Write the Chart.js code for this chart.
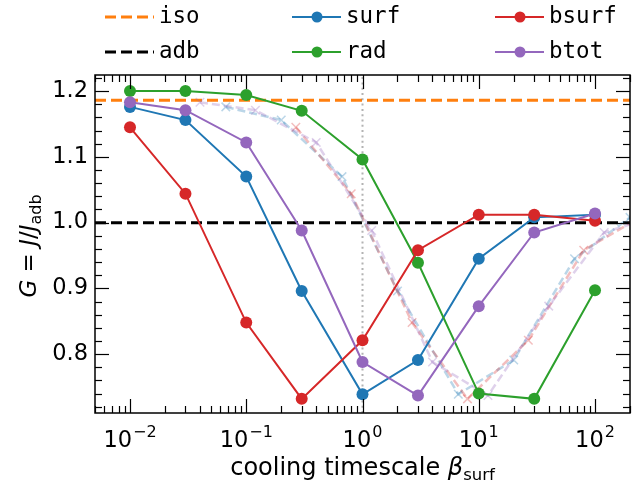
<!DOCTYPE html>
<html lang="en"><head>
<meta charset="UTF-8">
<title>G vs cooling timescale</title>
<script src="https://cdn.jsdelivr.net/npm/chart.js"></script>
<style>
  body { margin: 0; background: white; }
  #wrap { width: 639px; height: 483px; }
</style>
</head><body>
<div id="wrap"><canvas id="chart" width="639" height="483"></canvas></div>
<script>
// cooling timescale values of the runs
const betaValues = [0.01, 0.03, 0.1, 0.3, 1, 3, 10, 30, 100];
const surf  = [1.176, 1.156, 1.070, 0.896, 0.739, 0.791, 0.945, 1.008, 1.012];
const rad   = [1.200, 1.200, 1.194, 1.170, 1.096, 0.939, 0.740, 0.732, 0.897];
const bsurf = [1.145, 1.044, 0.848, 0.732, 0.821, 0.958, 1.012, 1.012, 1.003];
const btot  = [1.183, 1.171, 1.122, 0.988, 0.788, 0.737, 0.873, 0.985, 1.014];
// faint reference curves: the same values placed at rescaled beta
const surfShiftX  = [0.0667, 0.2, 0.667, 2, 6.67, 20, 66.7, 200, 667];
const bsurfShiftX = [0.267, 0.8, 2.67, 8, 26.7, 80, 267, 800, 2670];
const btotShiftX  = [0.04, 0.12, 0.4, 1.2, 4, 12, 40, 120, 400];
const isoLevel = 1.186;
const adbLevel = 1.0;
const xMin = 0.005, xMax = 200;
const yMin = 0.7105, yMax = 1.2245;
const xTickExps = [-2, -1, 0, 1, 2];
const yTicks = [0.8, 0.9, 1.0, 1.1, 1.2];
const yTickLabels = ['0.8', '0.9', '1.0', '1.1', '1.2'];

const C = {
  blue: '#1f77b4', orange: '#ff7f0e', green: '#2ca02c', red: '#d62728', purple: '#9467bd'
};
const faint = {
  blue: 'rgba(31,119,180,0.3)', red: 'rgba(214,39,40,0.3)', purple: 'rgba(148,103,189,0.3)'
};

const pts = (xs, ys) => xs.map((x, i) => ({ x: x, y: ys[i] }));

function mainSet(label, ys, color, order) {
  return {
    label: label, data: pts(betaValues, ys), borderColor: color, backgroundColor: color,
    borderWidth: 2, pointRadius: 6, pointBorderWidth: 0, pointBackgroundColor: color,
    tension: 0, order: order
  };
}
function faintSet(label, xs, ys, color, order) {
  return {
    label: label, data: pts(xs, ys), borderColor: color, borderWidth: 2.5, borderDash: [8, 4],
    pointStyle: 'crossRot', pointRadius: 6, pointBorderWidth: 1.5, pointBorderColor: color,
    tension: 0, order: order
  };
}
function hline(label, y, color, order) {
  return {
    label: label, data: [{ x: xMin, y: y }, { x: xMax, y: y }], borderColor: color,
    borderWidth: 3, borderDash: [11, 5], pointRadius: 0, order: order
  };
}

const FONT = '"DejaVu Sans", sans-serif';

// legend in the matplotlib style: 3 columns, 2 rows above the axes
const legendItems = [
  { text: 'iso',   color: C.orange, dash: true,  x: 105, y: 17 },
  { text: 'adb',   color: '#000',   dash: true,  x: 105, y: 52 },
  { text: 'surf',  color: C.blue,   dash: false, x: 292, y: 17 },
  { text: 'rad',   color: C.green,  dash: false, x: 292, y: 52 },
  { text: 'bsurf', color: C.red,    dash: false, x: 495, y: 17 },
  { text: 'btot',  color: C.purple, dash: false, x: 495, y: 52 }
];

const decorations = {
  id: 'decorations',
  afterDatasetsDraw(chart) {
    const ctx = chart.ctx, a = chart.chartArea;
    const xs = chart.scales.x, ys = chart.scales.y;
    ctx.save();
    ctx.strokeStyle = '#000';
    ctx.lineWidth = 1.2;
    ctx.setLineDash([]);
    const tick = (x1, y1, x2, y2) => { ctx.beginPath(); ctx.moveTo(x1, y1); ctx.lineTo(x2, y2); ctx.stroke(); };
    // x ticks, inward on bottom and top
    for (let d = -3; d <= 2; d++) {
      for (let k = 1; k <= 9; k++) {
        const v = k * Math.pow(10, d);
        if (v < xMin || v > xMax) continue;
        const px = Math.round(xs.getPixelForValue(v)) + 0.5;
        const len = k === 1 ? 14 : 7;
        tick(px, a.bottom, px, a.bottom - len);
        tick(px, a.top, px, a.top + len);
      }
    }
    // y ticks, major every 0.1, minor every 0.02
    for (let i = 36; i <= 61; i++) {
      const v = i / 50;
      if (v < yMin || v > yMax) continue;
      const py = Math.round(ys.getPixelForValue(v)) + 0.5;
      const len = i % 5 === 0 ? 14 : 7;
      tick(a.left, py, a.left + len, py);
      tick(a.right, py, a.right - len, py);
    }
    // frame
    ctx.lineWidth = 1.5;
    ctx.strokeRect(a.left, a.top, a.right - a.left, a.bottom - a.top);

    // y tick labels
    ctx.fillStyle = '#000';
    ctx.font = '22.5px ' + FONT;
    ctx.textAlign = 'right';
    ctx.textBaseline = 'middle';
    yTicks.forEach((v, i) => ctx.fillText(yTickLabels[i], a.left - 7, ys.getPixelForValue(v)));

    // x tick labels 10^n
    ctx.textAlign = 'left';
    ctx.textBaseline = 'alphabetic';
    xTickExps.forEach(e => {
      const px = xs.getPixelForValue(Math.pow(10, e));
      const sup = e < 0 ? '\u2212' + (-e) : String(e);
      ctx.font = '22.5px ' + FONT;
      const wb = ctx.measureText('10').width;
      ctx.font = '16px ' + FONT;
      const wsup = ctx.measureText(sup).width;
      const left = px - (wb + wsup + 1) / 2;
      ctx.font = '22.5px ' + FONT;
      ctx.fillText('10', left, 447);
      ctx.font = '16px ' + FONT;
      ctx.fillText(sup, left + wb + 1, 437);
    });

    // x axis title
    const xParts = [
      { t: 'cooling timescale ', f: '24px ' + FONT, dy: 0 },
      { t: '\u03b2', f: 'italic 24px ' + FONT, dy: 0 },
      { t: 'surf', f: '16.5px ' + FONT, dy: 5 }
    ];
    drawParts(ctx, xParts, (a.left + a.right) / 2, 475);

    // y axis title, rotated
    ctx.save();
    ctx.translate(36, (a.top + a.bottom) / 2 + 2);
    ctx.rotate(-Math.PI / 2);
    const yParts = [
      { t: 'G', f: 'italic 23px ' + FONT, dy: 0 },
      { t: ' = ', f: '23px ' + FONT, dy: 0 },
      { t: 'J', f: 'italic 23px ' + FONT, dy: 0 },
      { t: '/', f: '23px ' + FONT, dy: 0 },
      { t: 'J', f: 'italic 23px ' + FONT, dy: 0 },
      { t: 'adb', f: '16px ' + FONT, dy: 5 }
    ];
    drawParts(ctx, yParts, 0, 0);
    ctx.restore();

    // legend
    legendItems.forEach(it => {
      ctx.strokeStyle = it.color;
      ctx.fillStyle = it.color;
      ctx.lineWidth = it.dash ? 3 : 2;
      ctx.setLineDash(it.dash ? [11, 5] : []);
      ctx.beginPath(); ctx.moveTo(it.x, it.y); ctx.lineTo(it.x + 49, it.y); ctx.stroke();
      ctx.setLineDash([]);
      if (!it.dash) {
        ctx.beginPath(); ctx.arc(it.x + 25, it.y, 5.5, 0, Math.PI * 2); ctx.fill();
      }
      ctx.fillStyle = '#000';
      ctx.font = '22.5px "DejaVu Sans Mono", monospace';
      ctx.textAlign = 'left';
      ctx.textBaseline = 'middle';
      ctx.fillText(it.text, it.x + 54, it.y);
    });
    ctx.restore();
  }
};

function drawParts(ctx, parts, cx, baseY) {
  let total = 0;
  parts.forEach(p => { ctx.font = p.f; p.w = ctx.measureText(p.t).width; total += p.w; });
  let x = cx - total / 2;
  ctx.textAlign = 'left';
  ctx.textBaseline = 'alphabetic';
  ctx.fillStyle = '#000';
  parts.forEach(p => { ctx.font = p.f; ctx.fillText(p.t, x, baseY + p.dy); x += p.w; });
}

new Chart(document.getElementById('chart'), {
  type: 'line',
  data: {
    datasets: [
      hline('iso', isoLevel, C.orange, 20),
      hline('adb', adbLevel, '#000', 19),
      {
        label: 'beta=1', data: [{ x: 1, y: yMin }, { x: 1, y: yMax }],
        borderColor: 'rgba(128,128,128,0.6)', borderWidth: 2, borderDash: [2, 3.3],
        pointRadius: 0, order: 18
      },
      faintSet('surf shifted', surfShiftX, surf, faint.blue, 12),
      faintSet('bsurf shifted', bsurfShiftX, bsurf, faint.red, 11),
      faintSet('btot shifted', btotShiftX, btot, faint.purple, 10),
      mainSet('surf', surf, C.blue, 4),
      mainSet('rad', rad, C.green, 3),
      mainSet('bsurf', bsurf, C.red, 2),
      mainSet('btot', btot, C.purple, 1)
    ]
  },
  options: {
    responsive: false,
    animation: false,
    devicePixelRatio: 1,
    layout: { padding: { left: 0, top: 75, right: 9, bottom: 0 } },
    plugins: { legend: { display: false }, tooltip: { enabled: false } },
    scales: {
      x: {
        type: 'logarithmic', min: xMin, max: xMax,
        grid: { display: false }, border: { display: false },
        ticks: { display: false },
        afterFit: s => { s.height = 70; }
      },
      y: {
        type: 'linear', min: yMin, max: yMax,
        grid: { display: false }, border: { display: false },
        ticks: { display: false },
        afterFit: s => { s.width = 95; }
      }
    }
  },
  plugins: [decorations]
});
</script>
</body></html>
